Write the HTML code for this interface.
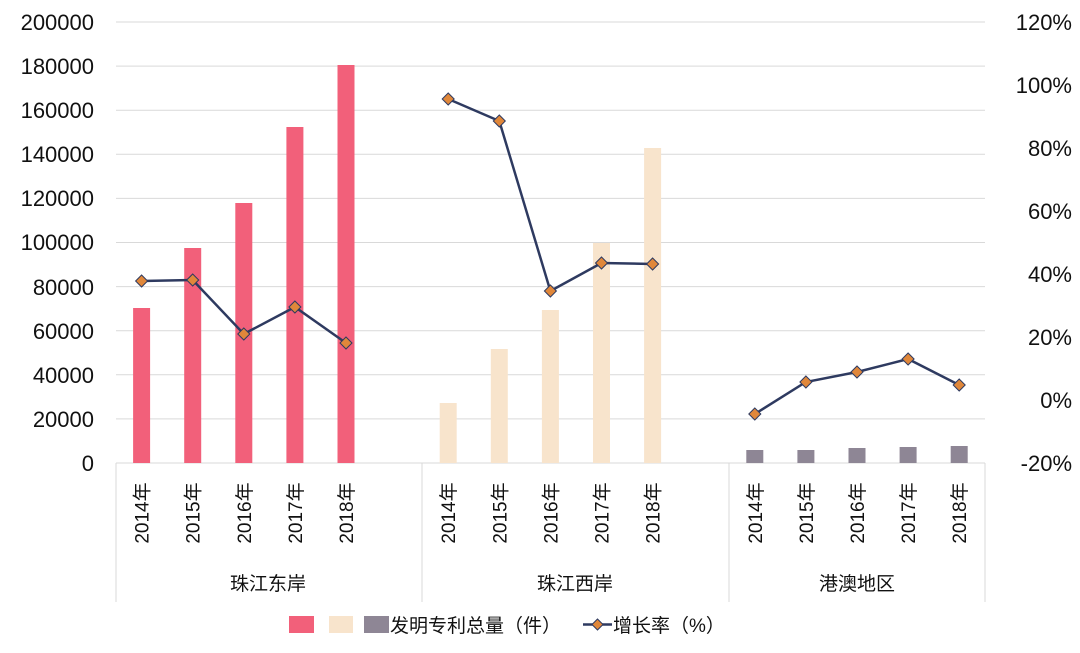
<!DOCTYPE html>
<html><head><meta charset="utf-8"><style>
html,body{margin:0;padding:0;background:#fff;}
svg text{font-family:"Liberation Sans","Noto Sans CJK SC",sans-serif;fill:#111;}
</style></head><body>
<svg width="1080" height="648" viewBox="0 0 1080 648" xmlns="http://www.w3.org/2000/svg">
<g stroke="#d9d9d9" stroke-width="1">
<line x1="116" x2="985" y1="22" y2="22"/><line x1="116" x2="985" y1="66.1" y2="66.1"/>
<line x1="116" x2="985" y1="110.2" y2="110.2"/><line x1="116" x2="985" y1="154.3" y2="154.3"/>
<line x1="116" x2="985" y1="198.4" y2="198.4"/><line x1="116" x2="985" y1="242.5" y2="242.5"/>
<line x1="116" x2="985" y1="286.6" y2="286.6"/><line x1="116" x2="985" y1="330.7" y2="330.7"/>
<line x1="116" x2="985" y1="374.8" y2="374.8"/><line x1="116" x2="985" y1="418.9" y2="418.9"/>
<line x1="116" x2="985" y1="463" y2="463"/>
<line x1="116" x2="116" y1="463" y2="602"/><line x1="422" x2="422" y1="463" y2="602"/>
<line x1="729" x2="729" y1="463" y2="602"/><line x1="985" x2="985" y1="463" y2="602"/>
</g>
<g font-size="22" text-anchor="end">
<text x="94" y="30">200000</text><text x="94" y="74">180000</text><text x="94" y="118">160000</text>
<text x="94" y="162">140000</text><text x="94" y="206">120000</text><text x="94" y="250">100000</text>
<text x="94" y="295">80000</text><text x="94" y="339">60000</text><text x="94" y="383">40000</text>
<text x="94" y="427">20000</text><text x="94" y="471">0</text>
</g>
<g font-size="22" text-anchor="end">
<text x="1072" y="30">120%</text><text x="1072" y="93">100%</text><text x="1072" y="156">80%</text>
<text x="1072" y="219">60%</text><text x="1072" y="282">40%</text><text x="1072" y="345">20%</text>
<text x="1072" y="408">0%</text><text x="1072" y="471">-20%</text>
</g>
<g fill="#f2607a">
<rect x="133.1" y="308" width="17" height="155"/><rect x="184.2" y="248" width="17" height="215"/>
<rect x="235.3" y="203" width="17" height="260"/><rect x="286.4" y="127" width="17" height="336"/>
<rect x="337.5" y="65" width="17" height="398"/>
</g>
<g fill="#f8e4cc">
<rect x="439.7" y="403" width="17" height="60"/><rect x="490.8" y="349" width="17" height="114"/>
<rect x="541.9" y="310" width="17" height="153"/><rect x="593" y="243" width="17" height="220"/>
<rect x="644.1" y="148" width="17" height="315"/>
</g>
<g fill="#8e8695">
<rect x="746.3" y="450" width="17" height="13"/><rect x="797.4" y="450" width="17" height="13"/>
<rect x="848.5" y="448" width="17" height="15"/><rect x="899.6" y="447" width="17" height="16"/>
<rect x="950.7" y="446" width="17" height="17"/>
</g>
<g fill="none" stroke="#2e3a60" stroke-width="2.5">
<polyline points="141.6,281 192.7,280 243.8,334 294.9,307 346,343"/>
<polyline points="448.2,99 499.3,121 550.4,291 601.5,263 652.6,264"/>
<polyline points="754.8,414 805.9,382 857,372 908.1,359 959.2,385"/>
</g>
<g fill="#e0873a" stroke="#2e3a60" stroke-width="1">
<path d="M141.6,275l6,6l-6,6l-6,-6z"/><path d="M192.7,274l6,6l-6,6l-6,-6z"/><path d="M243.8,328l6,6l-6,6l-6,-6z"/>
<path d="M294.9,301l6,6l-6,6l-6,-6z"/><path d="M346,337l6,6l-6,6l-6,-6z"/>
<path d="M448.2,93l6,6l-6,6l-6,-6z"/><path d="M499.3,115l6,6l-6,6l-6,-6z"/><path d="M550.4,285l6,6l-6,6l-6,-6z"/>
<path d="M601.5,257l6,6l-6,6l-6,-6z"/><path d="M652.6,258l6,6l-6,6l-6,-6z"/>
<path d="M754.8,408l6,6l-6,6l-6,-6z"/><path d="M805.9,376l6,6l-6,6l-6,-6z"/><path d="M857,366l6,6l-6,6l-6,-6z"/>
<path d="M908.1,353l6,6l-6,6l-6,-6z"/><path d="M959.2,379l6,6l-6,6l-6,-6z"/>
</g>
<g font-size="19" text-anchor="middle">
<text transform="translate(148.6,513) rotate(-90)">2014年</text>
<text transform="translate(199.7,513) rotate(-90)">2015年</text>
<text transform="translate(250.8,513) rotate(-90)">2016年</text>
<text transform="translate(301.9,513) rotate(-90)">2017年</text>
<text transform="translate(353,513) rotate(-90)">2018年</text>
<text transform="translate(455.2,513) rotate(-90)">2014年</text>
<text transform="translate(506.3,513) rotate(-90)">2015年</text>
<text transform="translate(557.4,513) rotate(-90)">2016年</text>
<text transform="translate(608.5,513) rotate(-90)">2017年</text>
<text transform="translate(659.6,513) rotate(-90)">2018年</text>
<text transform="translate(761.8,513) rotate(-90)">2014年</text>
<text transform="translate(812.9,513) rotate(-90)">2015年</text>
<text transform="translate(864,513) rotate(-90)">2016年</text>
<text transform="translate(915.1,513) rotate(-90)">2017年</text>
<text transform="translate(966.2,513) rotate(-90)">2018年</text>
</g>
<g font-size="19" text-anchor="middle">
<text x="268" y="590">珠江东岸</text><text x="575" y="590">珠江西岸</text><text x="857" y="590">港澳地区</text>
</g>
<rect x="289" y="616" width="25" height="17" fill="#f2607a"/>
<rect x="329" y="616" width="24" height="17" fill="#f8e4cc"/>
<rect x="364" y="616" width="25" height="17" fill="#8e8695"/>
<text x="390" y="632" font-size="19">发明专利总量（件）</text>
<line x1="583" x2="612" y1="624.5" y2="624.5" stroke="#2e3a60" stroke-width="2.5"/>
<path d="M597.5,619l5.5,5.5l-5.5,5.5l-5.5,-5.5z" fill="#e0873a" stroke="#2e3a60" stroke-width="1"/>
<text x="613" y="632" font-size="19">增长率（%）</text>
</svg>
</body></html>
